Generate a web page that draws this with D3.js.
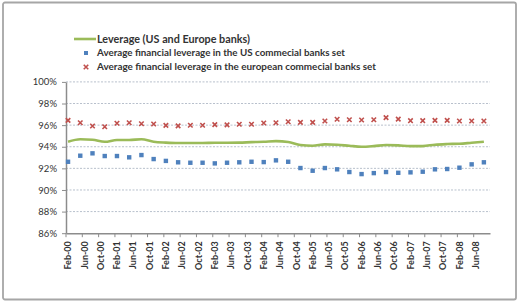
<!DOCTYPE html>
<html>
<head>
<meta charset="utf-8">
<script src="https://cdn.jsdelivr.net/npm/d3@7"></script>
<style>
  body { margin: 0; background: #fff; }
  text { font-family: Lato, "Liberation Sans", sans-serif; fill: #333; }
</style>
</head>
<body>
<svg id="chart" width="521" height="303"></svg>
<script>
// ===== Data =====
const quarters = [
  "Feb-00","May-00","Aug-00","Nov-00","Feb-01","May-01","Aug-01","Nov-01",
  "Feb-02","May-02","Aug-02","Nov-02","Feb-03","May-03","Aug-03","Nov-03",
  "Feb-04","May-04","Aug-04","Nov-04","Feb-05","May-05","Aug-05","Nov-05",
  "Feb-06","May-06","Aug-06","Nov-06","Feb-07","May-07","Aug-07","Nov-07",
  "Feb-08","May-08","Aug-08"
];
const leverage = [
  94.46, 94.69, 94.65, 94.46, 94.62, 94.62, 94.69, 94.46, 94.38, 94.34, 94.34, 94.34,
  94.37, 94.37, 94.38, 94.43, 94.46, 94.52, 94.44, 94.16, 94.09, 94.22, 94.19, 94.09,
  94.0, 94.06, 94.16, 94.13, 94.06, 94.06, 94.19, 94.25, 94.28, 94.37, 94.46
];
const usBanks = [
  92.61, 93.17, 93.39, 93.14, 93.14, 93.02, 93.23, 92.86, 92.69, 92.56, 92.52, 92.52,
  92.46, 92.52, 92.56, 92.61, 92.58, 92.74, 92.61, 92.03, 91.78, 92.03, 91.91, 91.66,
  91.47, 91.56, 91.66, 91.59, 91.63, 91.69, 91.91, 91.94, 92.06, 92.37, 92.56
];
const euBanks = [
  96.44, 96.22, 95.92, 95.85, 96.17, 96.22, 96.13, 96.10, 95.98, 95.93, 95.99, 95.99,
  96.05, 96.02, 96.08, 96.08, 96.2, 96.22, 96.31, 96.26, 96.26, 96.38, 96.54, 96.5,
  96.47, 96.5, 96.69, 96.56, 96.41, 96.41, 96.44, 96.44, 96.38, 96.38, 96.38
];
const xTickLabels = [
  "Feb-00","Jun-00","Oct-00","Feb-01","Jun-01","Oct-01","Feb-02","Jun-02","Oct-02",
  "Feb-03","Jun-03","Oct-03","Feb-04","Jun-04","Oct-04","Feb-05","Jun-05","Oct-05",
  "Feb-06","Jun-06","Oct-06","Feb-07","Jun-07","Oct-07","Feb-08","Jun-08"
];
const yTicks = [86, 88, 90, 92, 94, 96, 98, 100];
const legendLabels = [
  "Leverage (US and Europe banks)",
  "Average financial leverage in the US commecial banks set",
  "Average financial leverage in the european commecial banks set"
];

// ===== Basis SVG =====
const svg = d3.select("#chart");
const fmtMonth = d3.timeFormat("%b-%y");
const months = d3.timeMonth.range(new Date(2000, 1, 1), new Date(2008, 8, 2)).map(fmtMonth);

const x = d3.scaleBand().domain(months).range([66, 490]);
const cx = d => x(d) + x.bandwidth() / 2;
const y = d3.scaleLinear().domain([86, 100]).range([233.2, 81.9]);

// Frame
svg.append("rect")
  .attr("x", 3).attr("y", 2.5).attr("width", 513).attr("height", 297)
  .attr("rx", 2)
  .attr("fill", "#fff").attr("stroke", "#a6a6a6").attr("stroke-width", 1.8);

// Gridlines
svg.append("g").selectAll("line")
  .data(yTicks.slice(1))
  .enter().append("line")
  .attr("x1", 66).attr("x2", 490)
  .attr("y1", d => y(d)).attr("y2", d => y(d))
  .attr("stroke", "#b8c0cc").attr("stroke-width", 1)
  .attr("stroke-dasharray", "2,1.5");

// Y axis
const yAxis = svg.append("g")
  .attr("transform", "translate(66,0)")
  .call(d3.axisLeft(y).tickValues(yTicks).tickFormat(d => d + "%").tickSize(4).tickPadding(5).tickSizeOuter(0));
yAxis.select(".domain").attr("stroke", "#8c8c8c").attr("stroke-width", 1.5);
yAxis.selectAll(".tick line").attr("stroke", "#8c8c8c");
yAxis.selectAll("text").attr("font-size", "9.5px").attr("fill", "#333");

// X axis
const xAxis = svg.append("g")
  .attr("transform", `translate(0,${y(86)})`)
  .call(d3.axisBottom(x).tickValues(xTickLabels).tickSize(0).tickSizeOuter(0));
xAxis.select(".domain").attr("stroke", "#8c8c8c").attr("stroke-width", 1.5);
xAxis.selectAll("text")
  .attr("font-size", "9px")
  .attr("font-weight", "bold")
  .attr("fill", "#333")
  .attr("text-anchor", "end")
  .attr("transform", "rotate(-90)")
  .attr("x", -8).attr("y", 0).attr("dy", "0.35em");
xAxis.selectAll(".tick").append("line")
  .attr("x1", -x.bandwidth() / 2).attr("x2", -x.bandwidth() / 2)
  .attr("y1", 0).attr("y2", 4)
  .attr("stroke", "#8c8c8c");

// Leverage line
const line = d3.line()
  .x((d, i) => cx(quarters[i]))
  .y(d => y(d))
  .curve(d3.curveMonotoneX);
svg.append("path")
  .datum(leverage)
  .attr("d", line)
  .attr("fill", "none")
  .attr("stroke", "#9bbb59")
  .attr("stroke-width", 2.6);

// US points
svg.append("g").selectAll("rect")
  .data(usBanks)
  .enter().append("rect")
  .attr("x", (d, i) => cx(quarters[i]) - 2.2)
  .attr("y", d => y(d) - 2.2)
  .attr("width", 4.4).attr("height", 4.4)
  .attr("fill", "#4f81bd");

// Europe points
const xSym = d3.symbol().type(d3.symbolX).size(15);
svg.append("g").selectAll("path")
  .data(euBanks)
  .enter().append("path")
  .attr("d", xSym)
  .attr("transform", (d, i) => `translate(${cx(quarters[i])},${y(d)})`)
  .attr("fill", "none")
  .attr("stroke", "#c0504d")
  .attr("stroke-width", 1.6);

// Legend
const legend = svg.append("g");
legend.append("line")
  .attr("x1", 74).attr("x2", 96).attr("y1", 39).attr("y2", 39)
  .attr("stroke", "#9bbb59").attr("stroke-width", 2.6);
legend.append("rect")
  .attr("x", 84).attr("y", 51).attr("width", 4).attr("height", 4)
  .attr("fill", "#4f81bd");
legend.append("path")
  .attr("d", xSym)
  .attr("transform", "translate(86,67)")
  .attr("fill", "none").attr("stroke", "#c0504d").attr("stroke-width", 1.6);

const legendRows = [
  { y: 39, size: 11, w: 153 },
  { y: 53, size: 9.5, w: 248 },
  { y: 67, size: 9.5, w: 279 }
];
legend.selectAll("text.lg")
  .data(legendLabels)
  .enter().append("text")
  .attr("class", "lg")
  .attr("x", 97)
  .attr("y", (d, i) => legendRows[i].y)
  .attr("dy", "0.35em")
  .attr("font-size", (d, i) => legendRows[i].size + "px")
  .attr("font-weight", "bold")
  .attr("textLength", (d, i) => legendRows[i].w)
  .attr("lengthAdjust", "spacingAndGlyphs")
  .text(d => d);
</script>
</body>
</html>
